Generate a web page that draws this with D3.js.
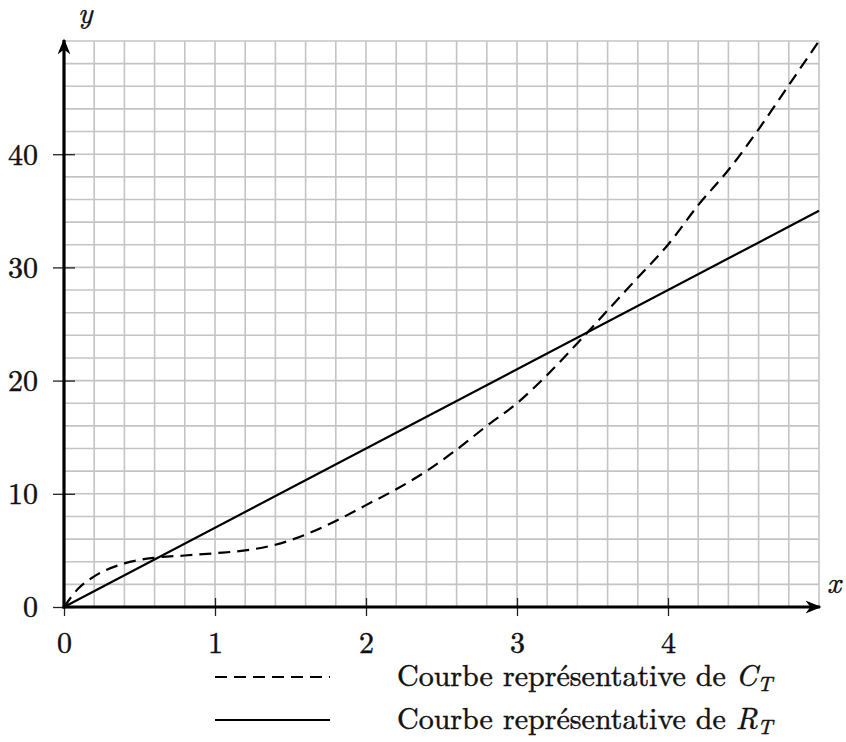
<!DOCTYPE html>
<html>
<head>
<meta charset="utf-8">
<script src="https://cdn.jsdelivr.net/npm/d3@7"></script>
<style>
  body { margin: 0; background: #fff; }
  text { stroke: #111; stroke-width: 0.45px; }
</style>
</head>
<body>
<div id="svg-container"></div>
<script>
// data
const xTicks = [0, 1, 2, 3, 4];
const yTicks = [0, 10, 20, 30, 40];

// C_T (dashed)
const cX = [0, 0.1, 0.2, 0.4, 0.6, 0.8, 1.0, 1.2, 1.4, 1.6, 1.8, 2.0, 2.2, 2.4, 2.6, 2.8, 3.0, 3.2, 3.4, 3.6, 3.8, 4.0, 4.2, 4.4, 4.6, 4.8, 5.0];
const cY = [0, 1.7, 2.7, 3.85, 4.35, 4.55, 4.75, 5.0, 5.5, 6.4, 7.6, 9.0, 10.4, 12.0, 13.9, 16.0, 18.0, 20.5, 23.3, 26.2, 29.1, 32.0, 35.5, 38.6, 42.2, 46.1, 50];

// R_T (solid)
const rX = [0, 5];
const rY = [0, 35];

const legendLabels = [
  { text: "Courbe représentative de ", sym: "C", sub: "T", dash: "12,7" },
  { text: "Courbe représentative de ", sym: "R", sub: "T", dash: null }
];

////////////////////////////////////////////////////////////////////
const FONT = "'Latin Modern Roman', 'Liberation Serif', serif";
const width = 846, height = 742;

const svg = d3.select("#svg-container").append("svg")
  .attr("width", width).attr("height", height)
  .attr("font-family", FONT);

const xScale = d3.scaleLinear().domain([0, 5]).range([64, 819]);
const yScale = d3.scaleLinear().domain([0, 50]).range([607, 41]);

// grid
const grid = svg.append("g").attr("stroke", "#c4c4c4").attr("stroke-width", 1.6);
grid.selectAll(".vg")
  .data(d3.range(0, 26).map((i) => i * 0.2))
  .join("line")
  .attr("x1", (d) => xScale(d)).attr("x2", (d) => xScale(d))
  .attr("y1", yScale(0)).attr("y2", yScale(50));
grid.selectAll(".hg")
  .data(d3.range(0, 26).map((i) => i * 2))
  .join("line")
  .attr("x1", xScale(0)).attr("x2", xScale(5))
  .attr("y1", (d) => yScale(d)).attr("y2", (d) => yScale(d));

// axes (ticks + labels)
const xAxis = d3.axisBottom(xScale).tickValues(xTicks).tickSize(9).tickFormat(d3.format("d"));
const yAxis = d3.axisLeft(yScale).tickValues(yTicks).tickSize(11).tickPadding(15).tickFormat(d3.format("d"));

const gx = svg.append("g").attr("transform", `translate(0, ${yScale(0)})`).call(xAxis);
const gy = svg.append("g").attr("transform", `translate(${xScale(0)}, 0)`).call(yAxis);

gx.attr("font-family", FONT);
gy.attr("font-family", FONT);
gx.select(".domain").remove();
gy.select(".domain").remove();
gx.selectAll(".tick line").attr("y1", -9).attr("stroke", "#222").attr("stroke-width", 1.3);
gy.selectAll(".tick line").attr("x1", 11).attr("stroke", "#222").attr("stroke-width", 1.3);
gx.selectAll(".tick text").attr("font-size", 30).attr("fill", "#111")
  .attr("y", 46).attr("dy", null);
gy.selectAll(".tick text").attr("font-size", 30).attr("fill", "#111").attr("dy", "0.33em");

// axis lines with arrows
svg.append("defs").append("marker")
  .attr("id", "arrow")
  .attr("viewBox", "0 0 10 10")
  .attr("refX", 9).attr("refY", 5)
  .attr("markerWidth", 5).attr("markerHeight", 5)
  .attr("markerUnits", "strokeWidth")
  .attr("orient", "auto")
  .append("path")
  .attr("d", "M0,1 L10,5 L0,9 L3,5 Z")
  .attr("fill", "#000");

svg.append("line")
  .attr("x1", xScale(0) - 1.5).attr("x2", xScale(5) + 1)
  .attr("y1", yScale(0)).attr("y2", yScale(0))
  .attr("stroke", "#000").attr("stroke-width", 3.2)
  .attr("marker-end", "url(#arrow)");

svg.append("line")
  .attr("x1", xScale(0)).attr("x2", xScale(0))
  .attr("y1", yScale(0) + 1.5).attr("y2", yScale(50) - 1)
  .attr("stroke", "#000").attr("stroke-width", 3.2)
  .attr("marker-end", "url(#arrow)");

svg.append("text").attr("x", 827).attr("y", 593)
  .attr("font-size", 30).attr("font-style", "italic").attr("fill", "#111").text("x");
svg.append("text").attr("x", 78).attr("y", 23)
  .attr("font-size", 30).attr("font-style", "italic").attr("fill", "#111").text("y");

// curves
const cData = cX.map((x, i) => ({ x: x, y: cY[i] }));
const rData = rX.map((x, i) => ({ x: x, y: rY[i] }));

const lineC = d3.line().curve(d3.curveMonotoneX)
  .x((d) => xScale(d.x)).y((d) => yScale(d.y));
const lineR = d3.line()
  .x((d) => xScale(d.x)).y((d) => yScale(d.y));

svg.append("path").datum(cData)
  .attr("d", lineC)
  .attr("fill", "none").attr("stroke", "#000").attr("stroke-width", 2.2)
  .attr("stroke-dasharray", "12,7");

svg.append("path").datum(rData)
  .attr("d", lineR)
  .attr("fill", "none").attr("stroke", "#000").attr("stroke-width", 2.2);

// legend
const legend = svg.append("g");
legendLabels.forEach((d, i) => {
  const ly = 677 + i * 43;
  legend.append("line")
    .attr("x1", 215).attr("x2", 330)
    .attr("y1", ly).attr("y2", ly)
    .attr("stroke", "#000").attr("stroke-width", 2.2)
    .attr("stroke-dasharray", d.dash);
  const t = legend.append("text")
    .attr("x", 397).attr("y", ly + 9)
    .attr("font-size", 30).attr("fill", "#111");
  t.append("tspan").text(d.text);
  t.append("tspan").attr("font-style", "italic").text(d.sym);
  t.append("tspan").attr("font-style", "italic").attr("font-size", 21).attr("dy", 5).text(d.sub);
});
</script>
</body>
</html>
